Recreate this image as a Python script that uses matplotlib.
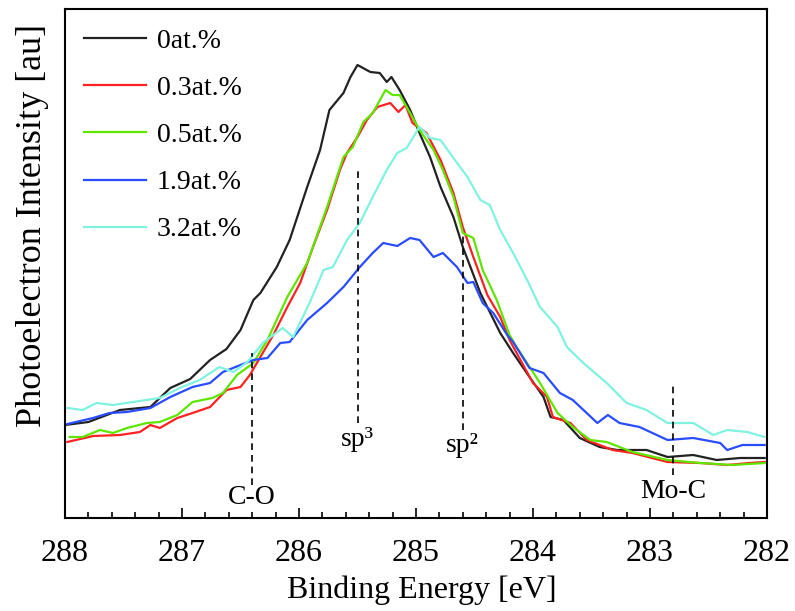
import matplotlib
matplotlib.use("Agg")
import matplotlib.pyplot as plt
from matplotlib.ticker import MultipleLocator

plt.rcParams['font.family'] = ['Liberation Serif', 'DejaVu Serif']

# ---- data (binding energy in eV, intensity in arbitrary units) ----
e_0 = [288.00, 287.80, 287.53, 287.27, 287.10, 286.93, 286.76, 286.62, 286.50, 286.39,
       286.33, 286.19, 286.08, 285.93, 285.82, 285.74, 285.62, 285.56, 285.50, 285.39,
       285.31, 285.25, 285.21, 285.14, 285.05, 284.97, 284.88, 284.79, 284.68, 284.60,
       284.45, 284.28, 284.17, 284.03, 283.91, 283.85, 283.74, 283.60, 283.43, 283.28,
       283.03, 282.85, 282.63, 282.43, 282.23, 282.02]
i_0 = [93, 96, 108, 111, 130, 139, 158, 169, 188, 218,
       225, 251, 278, 331, 368, 408, 425, 441, 453, 446,
       445, 436, 441, 428, 408, 385, 361, 331, 301, 271,
       225, 185, 165, 141, 121, 101, 98, 80, 71, 68,
       68, 61, 63, 58, 60, 60]

e_03 = [287.98, 287.76, 287.53, 287.36, 287.27, 287.19, 287.04, 286.91, 286.76, 286.62,
        286.50, 286.42, 286.33, 286.22, 286.10, 285.99, 285.88, 285.76, 285.65, 285.59,
        285.50, 285.42, 285.33, 285.22, 285.15, 285.09, 285.03, 284.91, 284.79, 284.68,
        284.60, 284.51, 284.39, 284.28, 284.20, 284.00, 283.88, 283.83, 283.68, 283.54,
        283.32, 283.15, 282.85, 282.57, 282.34, 282.15, 282.02]
i_03 = [76, 82, 83, 86, 93, 90, 100, 105, 111, 128,
        131, 143, 161, 183, 211, 235, 271, 308, 348, 365,
        381, 398, 411, 415, 406, 413, 395, 385, 358, 325,
        291, 261, 223, 201, 178, 135, 121, 101, 95, 78,
        68, 65, 56, 55, 53, 55, 56]

e_05 = [287.96, 287.85, 287.70, 287.59, 287.47, 287.30, 287.19, 287.04, 286.91, 286.74,
        286.65, 286.53, 286.39, 286.27, 286.10, 285.93, 285.76, 285.62, 285.54, 285.45,
        285.37, 285.26, 285.20, 285.14, 285.05, 284.97, 284.85, 284.77, 284.68, 284.60,
        284.51, 284.43, 284.31, 284.20, 284.14, 283.94, 283.79, 283.66, 283.51, 283.37,
        283.15, 282.85, 282.57, 282.29, 282.02]
i_05 = [81, 81, 88, 85, 90, 95, 96, 103, 116, 120,
        125, 143, 155, 178, 221, 255, 311, 361, 371, 396,
        405, 428, 423, 423, 405, 388, 368, 348, 321, 285,
        280, 248, 218, 183, 171, 135, 105, 91, 78, 76,
        66, 58, 55, 53, 55]

e_19 = [287.98, 287.76, 287.62, 287.47, 287.27, 287.10, 286.91, 286.76, 286.65, 286.50,
        286.39, 286.27, 286.16, 286.08, 285.93, 285.76, 285.62, 285.48, 285.37, 285.28,
        285.16, 285.05, 284.97, 284.85, 284.77, 284.65, 284.56, 284.51, 284.43, 284.34,
        284.22, 284.17, 284.03, 283.91, 283.77, 283.66, 283.45, 283.36, 283.26, 283.09,
        282.85, 282.63, 282.40, 282.34, 282.21, 282.02]
i_19 = [94, 100, 105, 106, 110, 121, 131, 135, 146, 153,
        158, 160, 175, 176, 198, 215, 231, 251, 265, 275,
        272, 280, 278, 261, 265, 251, 235, 236, 215, 205,
        183, 176, 150, 145, 125, 118, 95, 103, 95, 91,
        78, 80, 75, 68, 73, 73]

e_32 = [287.98, 287.85, 287.73, 287.59, 287.42, 287.19, 287.02, 286.85, 286.68, 286.56,
        286.44, 286.31, 286.14, 286.05, 285.91, 285.79, 285.71, 285.59, 285.48, 285.37,
        285.25, 285.16, 285.08, 284.97, 284.88, 284.79, 284.68, 284.56, 284.45, 284.37,
        284.28, 284.17, 284.05, 283.94, 283.79, 283.71, 283.57, 283.37, 283.20, 283.03,
        282.85, 282.63, 282.46, 282.34, 282.17, 282.02]
i_32 = [110, 108, 115, 113, 116, 120, 130, 138, 151, 146,
        156, 175, 190, 181, 215, 248, 251, 278, 295, 321,
        348, 365, 370, 391, 380, 378, 360, 341, 318, 313,
        288, 265, 238, 211, 191, 171, 155, 135, 115, 108,
        95, 95, 83, 88, 86, 81]

series_labels = ['0at.%', '0.3at.%', '0.5at.%', '1.9at.%', '3.2at.%']
series_colors = ['#222222', '#ff2222', '#5fe600', '#2a4cff', '#80f2e0']

peak_labels = ['C-O', 'sp\u00b3', 'sp\u00b2', 'Mo-C']
peak_pos = [286.40, 285.50, 284.60, 282.80]
peak_top = [165, 350, 285, 133]
peak_bottom = [33, 95, 88, 43]
label_y = [21, 78, 72, 26]

xticks = [288, 287, 286, 285, 284, 283, 282]

# ---- figure ----
fig = plt.figure(figsize=(7.95, 6.11), dpi=100)
ax = fig.add_axes([65/795, (611-518)/611, (767-65)/795, (518-9)/611])

energies = [e_0, e_03, e_05, e_19, e_32]
intens = [i_0, i_03, i_05, i_19, i_32]
for e, i, lab, c in zip(energies, intens, series_labels, series_colors):
    ax.plot(e, i, color=c, lw=1.6, label=lab)

for p, t, b, lab, ly in zip(peak_pos, peak_top, peak_bottom, peak_labels, label_y):
    ax.plot([p, p], [b, t], color='black', lw=1.2, ls=(0, (4, 3)))
    ax.text(p, ly, lab, ha='center', va='center', fontsize=20)

ax.set_xlim(288, 282)
ax.set_ylim(0, 509)
ax.set_xticks(xticks)
ax.set_xticklabels([str(t) for t in xticks])
ax.xaxis.set_minor_locator(MultipleLocator(0.2))
ax.set_yticks([])
ax.tick_params(axis='x', which='major', direction='in', length=7, width=1.2,
               labelsize=23, pad=15)
ax.tick_params(axis='x', which='minor', direction='in', length=4, width=1.2)
for s in ax.spines.values():
    s.set_linewidth(1.5)

fig.text(422/795, 1 - 590/611, 'Binding Energy [eV]', fontsize=23,
         ha='center', va='center')
fig.text(33/795, 1 - 226/611, 'Photoelectron Intensity [au]', fontsize=26,
         ha='center', va='center', rotation=90)

ax.legend(loc='upper left', frameon=False, fontsize=20, handlelength=2.2,
          handletextpad=0.4, labelspacing=0.78, borderaxespad=0.3)

fig.savefig('out.png', dpi=100)
